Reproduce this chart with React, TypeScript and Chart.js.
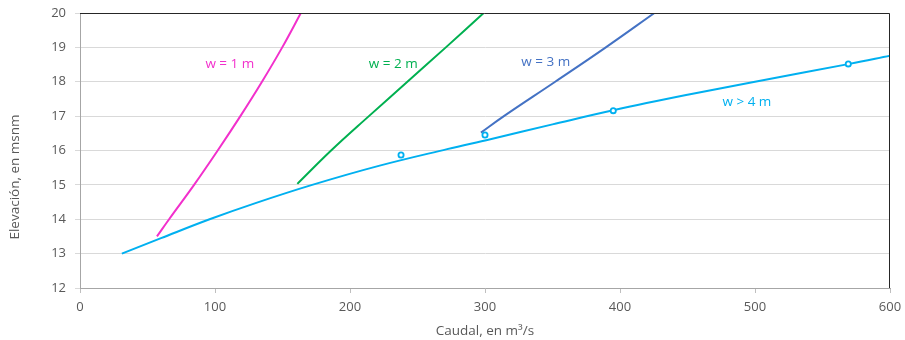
import React, { useEffect, useRef } from "react";
import { Chart, registerables } from "chart.js";

Chart.register(...registerables);

// w = 1 m
const w1X = [57, 66, 84.5, 102, 118.8, 134.8, 149.8, 163.6];
const w1Y = [13.5, 14.0, 15.0, 16.0, 17.0, 18.0, 19.0, 20.0];
// w = 2 m
const w2X = [161, 186, 214, 242.5, 271, 299];
const w2Y = [15.03, 16.0, 17.0, 18.0, 19.0, 20.0];
// w = 3 m
const w3X = [297, 314, 352, 389.5, 425.5];
const w3Y = [16.52, 17.0, 18.0, 19.0, 20.0];
// w > 4 m
const w4X = [31, 60, 96, 130, 172, 222, 272, 304, 350, 395, 450, 500, 570, 600];
const w4Y = [13.0, 13.45, 14.0, 14.47, 15.0, 15.56, 16.04, 16.33, 16.76, 17.17, 17.62, 18.0, 18.52, 18.76];
// observed points
const obsX = [237.8, 300, 395, 569.1];
const obsY = [15.87, 16.45, 17.16, 18.52];

// curve labels
const labelText = ["w = 1 m", "w = 2 m", "w = 3 m", "w > 4 m"];
const labelX = [111, 232, 345, 494];
const labelY = [18.52, 18.52, 18.57, 17.41];

const xTicks = [0, 100, 200, 300, 400, 500, 600];
const yTicks = [12, 13, 14, 15, 16, 17, 18, 19, 20];

const MAGENTA = "#F230CC";
const GREEN = "#00B050";
const DBLUE = "#4472C4";
const LBLUE = "#00B0F0";
const labelColors = [MAGENTA, GREEN, DBLUE, LBLUE];

const FONT = "'Open Sans', 'Noto Sans', sans-serif";

const zip = (xs: number[], ys: number[]) => xs.map((x, i) => ({ x, y: ys[i] }));

export default function App() {
  const ref = useRef<HTMLCanvasElement | null>(null);
  useEffect(() => {
    document.body.style.margin = "0";
    const canvas = ref.current!;
    const decor = {
      id: "decor",
      afterDraw(chart: any) {
        const { ctx, chartArea: a, scales } = chart;
        ctx.save();
        // top/right border
        ctx.strokeStyle = "#262626";
        ctx.lineWidth = 1;
        ctx.beginPath();
        ctx.moveTo(a.left, a.top + 0.5);
        ctx.lineTo(a.right - 0.5, a.top + 0.5);
        ctx.lineTo(a.right - 0.5, a.bottom);
        ctx.stroke();
        // curve labels
        ctx.font = `13.5px ${FONT}`;
        ctx.textAlign = "center";
        ctx.textBaseline = "middle";
        labelText.forEach((t, i) => {
          ctx.fillStyle = labelColors[i];
          ctx.fillText(t, scales.x.getPixelForValue(labelX[i]), scales.y.getPixelForValue(labelY[i]));
        });
        // axis titles
        ctx.fillStyle = "#595959";
        ctx.font = `13.5px ${FONT}`;
        ctx.fillText("Caudal, en m³/s", (a.left + a.right) / 2, 331);
        ctx.translate(15, 177);
        ctx.rotate(-Math.PI / 2);
        ctx.fillText("Elevación, en msnm", 0, 0);
        ctx.restore();
      },
    };
    const lineDs = (xs: number[], ys: number[], color: string) => ({
      data: zip(xs, ys),
      showLine: true,
      borderColor: color,
      borderWidth: 2,
      pointRadius: 0,
      tension: 0.4,
    });
    const chart = new Chart(canvas, {
      type: "scatter",
      data: {
        datasets: [
          {
            data: zip(obsX, obsY),
            showLine: false,
            pointRadius: 2.6,
            pointBorderWidth: 1.8,
            pointBackgroundColor: "#ffffff",
            pointBorderColor: LBLUE,
            borderColor: LBLUE,
          },
          lineDs(w1X, w1Y, MAGENTA),
          lineDs(w2X, w2Y, GREEN),
          lineDs(w3X, w3Y, DBLUE),
          lineDs(w4X, w4Y, LBLUE),
        ],
      },
      options: {
        animation: false,
        responsive: false,
        events: [],
        layout: { padding: { top: 13, right: 15, left: 0, bottom: 0 } },
        plugins: { legend: { display: false }, tooltip: { enabled: false } },
        scales: {
          x: {
            type: "linear",
            min: xTicks[0],
            max: xTicks[xTicks.length - 1],
            afterBuildTicks: (s: any) => {
              s.ticks = xTicks.map((v) => ({ value: v }));
            },
            afterFit: (s: any) => {
              s.height = 52;
              s.paddingLeft = 0;
              s.paddingRight = 0;
            },
            ticks: { color: "#595959", font: { family: FONT, size: 13 }, padding: 6 },
            grid: { drawOnChartArea: false, drawTicks: true, tickLength: 5, color: "#BFBFBF" },
            border: { color: "#A6A6A6" },
          },
          y: {
            min: yTicks[0],
            max: yTicks[yTicks.length - 1],
            afterBuildTicks: (s: any) => {
              s.ticks = yTicks.map((v) => ({ value: v }));
            },
            afterFit: (s: any) => {
              s.width = 80;
              s.paddingTop = 0;
              s.paddingBottom = 0;
            },
            ticks: { color: "#595959", font: { family: FONT, size: 13 }, padding: 9 },
            grid: { color: "#D9D9D9", drawTicks: true, tickLength: 5 },
            border: { color: "#A6A6A6" },
          },
        },
      },
      plugins: [decor],
    } as any);
    return () => chart.destroy();
  }, []);
  return (
    <div style={{ width: 905, height: 340 }}>
      <canvas ref={ref} width={905} height={340} style={{ width: 905, height: 340, display: "block" }} />
    </div>
  );
}
